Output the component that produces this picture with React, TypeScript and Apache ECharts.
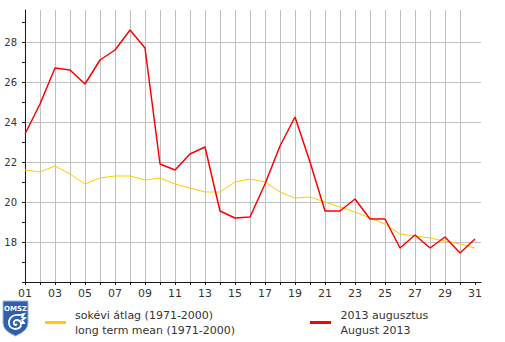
import React, { useEffect, useRef } from "react";
import * as echarts from "echarts";

const days = [1, 2, 3, 4, 5, 6, 7, 8, 9, 10, 11, 12, 13, 14, 15, 16, 17, 18, 19, 20, 21, 22, 23, 24, 25, 26, 27, 28, 29, 30, 31];
const dayLabels = [1, 3, 5, 7, 9, 11, 13, 15, 17, 19, 21, 23, 25, 27, 29, 31];
const yTicks = [16, 17, 18, 19, 20, 21, 22, 23, 24, 25, 26, 27, 28, 29];
const yLabels = [18, 20, 22, 24, 26, 28];

const meanValues = [21.6, 21.5, 21.8, 21.4, 20.9, 21.2, 21.3, 21.3, 21.1, 21.2, 20.9, 20.7, 20.5, 20.5, 21.0, 21.15, 21.0, 20.5, 20.2, 20.25, 20.0, 19.75, 19.5, 19.2, 18.9, 18.4, 18.3, 18.2, 18.05, 17.9, 17.7];
const aug2013Values = [23.4, 24.9, 26.7, 26.6, 25.9, 27.1, 27.6, 28.6, 27.7, 21.9, 21.6, 22.4, 22.75, 19.55, 19.2, 19.25, 20.9, 22.8, 24.25, 22.0, 19.55, 19.55, 20.15, 19.15, 19.15, 17.7, 18.35, 17.7, 18.25, 17.45, 18.15];

const meanName = ["sokévi átlag (1971-2000)", "long term mean (1971-2000)"];
const augName = ["2013 augusztus", "August 2013"];

const FONT = "DejaVu Sans";

let registered = false;
function registerShapes() {
  if (registered) return;
  registered = true;
  echarts.graphic.registerShape(
    "omszShield",
    echarts.graphic.extendPath("M0 0 L25 0 L25 22 Q25 30 12.5 35 Q0 30 0 22 Z", {})
  );
  echarts.graphic.registerShape(
    "omszSwirl",
    echarts.graphic.extendPath(
      "M17 14 Q8 13 6 20 Q5 27 12 28 Q18 28 18 23 Q18 19 13 19 Q10 20 11 23 Q12 25 14 23 M17 14 L21 13 L19 16 L22 17 L19 19 L21 22 L18 22",
      {}
    )
  );
}

export default function App() {
  const ref = useRef<HTMLDivElement>(null);
  useEffect(() => {
    if (!ref.current) return;
    registerShapes();
    const chart = echarts.init(ref.current, undefined, { renderer: "svg" });
    chart.setOption({
      animation: false,
      backgroundColor: "#ffffff",
      grid: { left: 25, top: 10, right: 24, bottom: 60, containLabel: false },
      xAxis: {
        type: "value",
        min: 1,
        max: 31.4,
        interval: 1,
        axisLine: { show: true, lineStyle: { color: "#1a1a1a", width: 1 } },
        axisTick: { show: true, length: 3, inside: false, customValues: days, lineStyle: { color: "#1a1a1a" } },
        axisLabel: {
          show: true,
          customValues: dayLabels,
          margin: 6,
          color: "#333333",
          fontFamily: FONT,
          fontSize: 11,
          formatter: (v: number) => (v < 10 ? "0" + v : String(v)),
        },
        splitLine: { show: true, showMaxLine: false, lineStyle: { color: "#c0c0c0", width: 1 } },
      },
      yAxis: {
        type: "value",
        min: 16,
        max: 29.6,
        interval: 1,
        axisLine: { show: true, lineStyle: { color: "#1a1a1a", width: 1 } },
        axisTick: { show: true, length: 3, customValues: yTicks, lineStyle: { color: "#1a1a1a" } },
        axisLabel: {
          show: true,
          customValues: yLabels,
          margin: 8,
          color: "#333333",
          fontFamily: FONT,
          fontSize: 10,
        },
        splitLine: {
          show: true,
          showMaxLine: false,
          lineStyle: { color: ["#c0c0c0", "rgba(0,0,0,0)"], width: 1 },
        },
      },
      series: [
        {
          name: meanName.join(" / "),
          type: "line",
          showSymbol: false,
          data: days.map((d, i) => [d, meanValues[i]]),
          lineStyle: { color: "#ffcc00", width: 1 },
          z: 2,
        },
        {
          name: augName.join(" / "),
          type: "line",
          showSymbol: false,
          data: days.map((d, i) => [d, aug2013Values[i]]),
          lineStyle: { color: "#ff0000", width: 1.5 },
          z: 3,
        },
      ],
      graphic: [
        {
          type: "omszShield",
          x: 3,
          y: 301,
          style: { fill: "#2f5fae", stroke: "#9bb8e6", lineWidth: 1 },
        },
        {
          type: "text",
          x: 15.5,
          y: 305,
          style: { text: "OMSZ", fill: "#ffffff", font: "bold 7px " + FONT, align: "center", verticalAlign: "top" },
        },
        {
          type: "omszSwirl",
          x: 3,
          y: 301,
          style: { fill: "none", stroke: "#ffffff", lineWidth: 1.8 },
        },
        {
          type: "line",
          shape: { x1: 45, y1: 322.5, x2: 66, y2: 322.5 },
          style: { stroke: "#ffcc00", lineWidth: 3 },
        },
        {
          type: "text",
          x: 75,
          y: 315.5,
          style: { text: meanName[0], fill: "#333333", font: "11px " + FONT, verticalAlign: "middle" },
        },
        {
          type: "text",
          x: 75,
          y: 330.5,
          style: { text: meanName[1], fill: "#333333", font: "11px " + FONT, verticalAlign: "middle" },
        },
        {
          type: "line",
          shape: { x1: 310, y1: 322.5, x2: 331, y2: 322.5 },
          style: { stroke: "#ff0000", lineWidth: 3 },
        },
        {
          type: "text",
          x: 340.5,
          y: 315.5,
          style: { text: augName[0], fill: "#333333", font: "11px " + FONT, verticalAlign: "middle" },
        },
        {
          type: "text",
          x: 340.5,
          y: 330.5,
          style: { text: augName[1], fill: "#333333", font: "11px " + FONT, verticalAlign: "middle" },
        },
      ],
    });
    return () => chart.dispose();
  }, []);
  return <div ref={ref} style={{ width: 505, height: 342, position: "absolute", left: 0, top: 0 }} />;
}
